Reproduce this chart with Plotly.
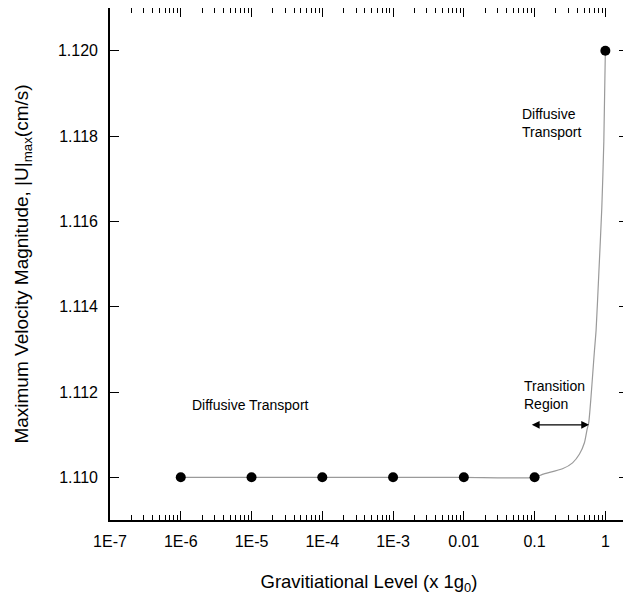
import plotly.graph_objects as go

# Data
g_levels = [1e-6, 1e-5, 1e-4, 1e-3, 0.01, 0.1, 1.0]
u_max = [1.110, 1.110, 1.110, 1.110, 1.110, 1.110, 1.120]

# Smooth fitted curve
curve_x = [1e-6, 1e-5, 1e-4, 1e-3, 0.01, 0.1, 0.129, 0.248, 0.344, 0.429, 0.506,
           0.551, 0.582, 0.628, 0.664, 0.702, 0.740, 0.808, 0.891, 0.952, 1.0]
curve_y = [1.110, 1.110, 1.110, 1.110, 1.110, 1.110, 1.11007, 1.11020, 1.11034,
           1.11054, 1.11081, 1.11112, 1.11128, 1.11190, 1.11244, 1.11298, 1.11345,
           1.11477, 1.11632, 1.11788, 1.120]

x_tickvals = [1e-7, 1e-6, 1e-5, 1e-4, 1e-3, 0.01, 0.1, 1]
x_ticktext = ["1E-7", "1E-6", "1E-5", "1E-4", "1E-3", "0.01", "0.1", "1"]
y_tickvals = [1.110, 1.112, 1.114, 1.116, 1.118, 1.120]

minor_vals = [m * 10 ** e for e in range(-7, 1) for m in range(2, 10)]

FONT = "Liberation Sans, Arial, sans-serif"

fig = go.Figure()
fig.add_trace(go.Scatter(x=curve_x, y=curve_y, mode="lines",
                         line=dict(color="#9a9a9a", width=1.2, shape="spline", smoothing=0.6),
                         hoverinfo="skip", showlegend=False))
fig.add_trace(go.Scatter(x=g_levels, y=u_max, mode="markers",
                         marker=dict(color="black", size=10), showlegend=False))

fig.add_annotation(x=-5.02, y=1.1117, xref="x", yref="y", text="Diffusive Transport",
                   showarrow=False, font=dict(size=14, color="black", family=FONT))
fig.add_annotation(x=-1.20, y=1.1183, xref="x", yref="y", text="Diffusive<br>Transport",
                   showarrow=False, xanchor="left", align="left",
                   font=dict(size=14, color="black", family=FONT))
fig.add_annotation(x=-1.18, y=1.11193, xref="x", yref="y", text="Transition<br>Region",
                   showarrow=False, xanchor="left", align="left",
                   font=dict(size=14, color="black", family=FONT))
# double-headed arrow
fig.add_annotation(x=-0.23, y=1.11123, ax=-1.06, ay=1.11123, xref="x", yref="y",
                   axref="x", ayref="y", text="", showarrow=True, arrowhead=2,
                   arrowsize=1.2, arrowwidth=1.3, arrowcolor="black", startarrowhead=2,
                   arrowside="end+start", startarrowsize=1.2)

fig.update_xaxes(type="log", range=[-7, 0.32], tickmode="array", tickvals=x_tickvals,
                 ticktext=x_ticktext, ticks="inside", ticklen=9, tickwidth=1.2,
                 tickcolor="black", showline=True, linecolor="black", linewidth=1.6,
                 mirror="ticks", showgrid=False, zeroline=False, ticklabelstandoff=6,
                 tickfont=dict(size=16, color="black", family=FONT),
                 minor=dict(tickmode="array", tickvals=minor_vals, ticks="inside",
                            ticklen=5, tickwidth=1.2, tickcolor="black", showgrid=False),
                 title=dict(text="Gravitiational Level (x 1g<sub>0</sub>)",
                            font=dict(size=18.5, color="black", family=FONT), standoff=26))
fig.update_yaxes(range=[1.109, 1.121], tickmode="array", tickvals=y_tickvals,
                 tickformat=".3f", ticks="inside", ticklen=9, tickwidth=1.2,
                 tickcolor="black", showline=True, linecolor="black", linewidth=1.6,
                 mirror="ticks", showgrid=False, zeroline=False, ticklabelstandoff=7,
                 tickfont=dict(size=16, color="black", family=FONT),
                 title=dict(text="Maximum Velocity Magnitude, |U|<sub>max</sub>(cm/s)",
                            font=dict(size=19, color="black", family=FONT), standoff=24))

# the page body adds an 8px offset, so the figure is sized to fit the window
fig.update_layout(width=623, height=588, plot_bgcolor="white", paper_bgcolor="white",
                  margin=dict(l=102, r=3, t=0, b=76, autoexpand=False), showlegend=False)

fig.write_html("out.html")
